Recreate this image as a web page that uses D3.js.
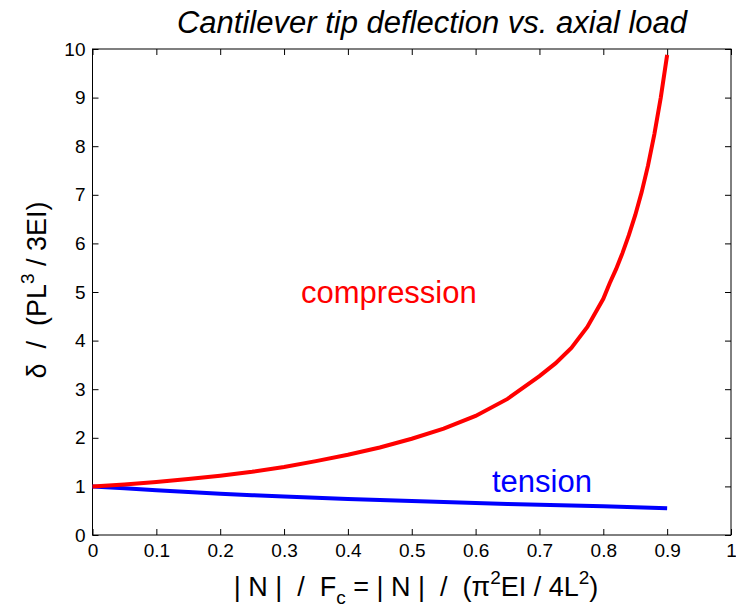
<!DOCTYPE html>
<html>
<head>
<meta charset="utf-8">
<script src="https://cdn.jsdelivr.net/npm/d3@7"></script>
<style>
  body { margin: 0; background: #fff; }
  svg text { font-family: "Liberation Sans", Arial, sans-serif; white-space: pre; }
</style>
</head>
<body>
<script>
// tick values
var xTicks = [0, 0.1, 0.2, 0.3, 0.4, 0.5, 0.6, 0.7, 0.8, 0.9, 1];
var yTicks = [0, 1, 2, 3, 4, 5, 6, 7, 8, 9, 10];

// compression curve
var compN = [0, 0.05, 0.1, 0.15, 0.2, 0.25, 0.3, 0.35, 0.4, 0.45, 0.5, 0.55, 0.6, 0.65, 0.7, 0.725, 0.75, 0.775, 0.8, 0.81, 0.82, 0.83, 0.84, 0.85, 0.86, 0.87, 0.88, 0.89, 0.9];
var compD = [1.0, 1.04, 1.09, 1.15, 1.22, 1.30, 1.40, 1.52, 1.65, 1.80, 1.98, 2.19, 2.45, 2.80, 3.27, 3.53, 3.85, 4.28, 4.86, 5.18, 5.47, 5.80, 6.17, 6.58, 7.05, 7.6, 8.25, 9.0, 9.88];

// tension curve
var tensN = [0, 0.05, 0.1, 0.15, 0.2, 0.25, 0.3, 0.35, 0.4, 0.45, 0.5, 0.55, 0.6, 0.65, 0.7, 0.75, 0.8, 0.85, 0.9];
var tensD = [1.0, 0.96, 0.92, 0.885, 0.85, 0.82, 0.79, 0.765, 0.74, 0.72, 0.70, 0.68, 0.66, 0.64, 0.62, 0.605, 0.59, 0.57, 0.55];

var width = 736, height = 608;
var plotL = 92.5, plotR = 731, plotT = 49, plotB = 535;

var svg = d3.select("body").append("svg")
    .attr("width", width)
    .attr("height", height);

var x = d3.scaleLinear().domain([0, 1]).range([plotL, plotR]);
var y = d3.scaleLinear().domain([0, 10]).range([plotB, plotT]);

var fmt = function (d) { return String(+d.toFixed(1)); };

// axes, ticks pointing inward like matlab
svg.append("g")
    .attr("transform", "translate(0," + plotB + ")")
    .call(d3.axisBottom(x).tickValues(xTicks).tickFormat(fmt)
        .tickSizeInner(-6).tickSizeOuter(0).tickPadding(9));
svg.append("g")
    .attr("transform", "translate(0," + plotT + ")")
    .call(d3.axisTop(x).tickValues(xTicks).tickFormat("")
        .tickSizeInner(-6).tickSizeOuter(0));
svg.append("g")
    .attr("transform", "translate(" + plotL + ",0)")
    .call(d3.axisLeft(y).tickValues(yTicks).tickFormat(fmt)
        .tickSizeInner(-6).tickSizeOuter(0).tickPadding(7));
svg.append("g")
    .attr("transform", "translate(" + plotR + ",0)")
    .call(d3.axisRight(y).tickValues(yTicks).tickFormat("")
        .tickSizeInner(-6).tickSizeOuter(0));

svg.selectAll(".domain").remove();
svg.selectAll(".tick line").attr("stroke", "#000").attr("stroke-width", 1);
svg.selectAll(".tick text")
    .attr("fill", "#000")
    .attr("font-size", 19)
    .attr("font-family", "'Liberation Sans', Arial, sans-serif");

// box
svg.append("rect")
    .attr("x", plotL)
    .attr("y", plotT)
    .attr("width", plotR - plotL)
    .attr("height", plotB - plotT)
    .attr("fill", "none")
    .attr("stroke", "#000")
    .attr("stroke-width", 1);

var line = d3.line()
    .x(function (d) { return x(d[0]); })
    .y(function (d) { return y(d[1]); });

svg.append("path")
    .datum(d3.zip(tensN, tensD))
    .attr("d", line)
    .attr("fill", "none")
    .attr("stroke", "#0000ff")
    .attr("stroke-width", 4);

svg.append("path")
    .datum(d3.zip(compN, compD))
    .attr("d", line)
    .attr("fill", "none")
    .attr("stroke", "#ff0000")
    .attr("stroke-width", 4);

// annotations
svg.append("text")
    .attr("x", 301).attr("y", 303)
    .attr("fill", "#ff0000")
    .style("font-size", "31px")
    .text("compression");

svg.append("text")
    .attr("x", 492).attr("y", 492)
    .attr("fill", "#0000ff")
    .style("font-size", "31px")
    .text("tension");

// title
svg.append("text")
    .attr("x", 432).attr("y", 33)
    .attr("text-anchor", "middle")
    .style("font-size", "31px")
    .style("font-style", "italic")
    .text("Cantilever tip deflection vs. axial load");

// x label
var xl = svg.append("text")
    .attr("x", 416).attr("y", 596)
    .attr("text-anchor", "middle")
    .style("font-size", "27px");
xl.append("tspan").text("| N |  /  F");
xl.append("tspan").attr("dy", 8).style("font-size", "19px").text("c");
xl.append("tspan").attr("dy", -8).text(" = | N |  /  (\u03c0");
xl.append("tspan").attr("dy", -12).style("font-size", "19px").text("2");
xl.append("tspan").attr("dy", 12).text("EI / 4L");
xl.append("tspan").attr("dy", -12).style("font-size", "19px").text("2");
xl.append("tspan").attr("dy", 12).text(")");

// y label
var yl = svg.append("text")
    .attr("transform", "translate(46,290) rotate(-90)")
    .attr("text-anchor", "middle")
    .style("font-size", "27px");
yl.append("tspan").text("\u03b4  /  (PL");
yl.append("tspan").attr("dy", -12).style("font-size", "19px").text("3");
yl.append("tspan").attr("dy", 12).text(" / 3EI)");
</script>
</body>
</html>
